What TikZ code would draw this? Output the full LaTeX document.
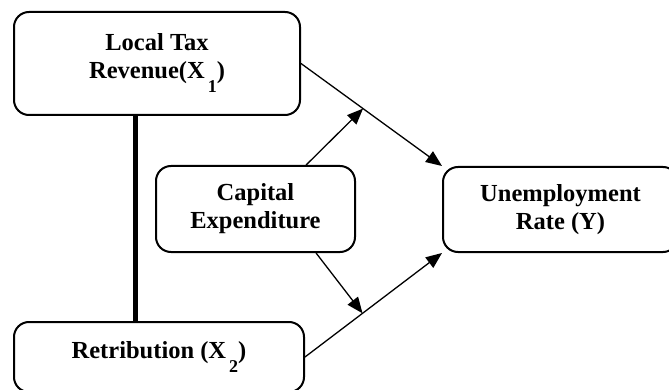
\documentclass[tikz,border=0pt]{standalone}
\usepackage{fontspec}
\setmainfont{Liberation Serif}
\usetikzlibrary{arrows.meta}
\newcommand{\lowsub}[1]{\hspace{3pt}\raisebox{-14pt}{\fontsize{18}{18}\selectfont\bfseries #1}}
\begin{document}
\begin{tikzpicture}[x=1pt, y=-1pt, >={Triangle[length=16pt, width=13pt]},
  box/.style={draw, line width=2pt, rounded corners=15pt, align=center, font=\fontsize{24.5}{28}\selectfont\bfseries}]
\useasboundingbox (0, 0) rectangle (669, 390);

\node[box, minimum width=286pt, minimum height=103pt] (x1) at (157, 63.5) {Local Tax\\Revenue(X\lowsub{1})};
\node[box, minimum width=290pt, minimum height=70pt] (x2) at (159, 357) {Retribution (X\lowsub{2})};
\node[box, minimum width=199pt, minimum height=86pt] (ce) at (255.5, 209) {Capital\\Expenditure};
\node[box, minimum width=235pt, minimum height=85pt] (y) at (560.5, 209.5) {Unemployment\\Rate (Y)};

\draw[line width=5pt] ([xshift=-22pt]x1.south) -- ([xshift=-24pt]x2.north);

\draw[->, line width=1.3pt] (x1.east) -- coordinate[pos=0.44] (m1) (y.north west);
\draw[->, line width=1.3pt] (x2.east) -- coordinate[pos=0.42] (m2) (y.south west);
\draw[->, line width=1.3pt] (ce.41) -- (m1);
\draw[->, line width=1.3pt] (ce.-36) -- (m2);
\end{tikzpicture}
\end{document}
